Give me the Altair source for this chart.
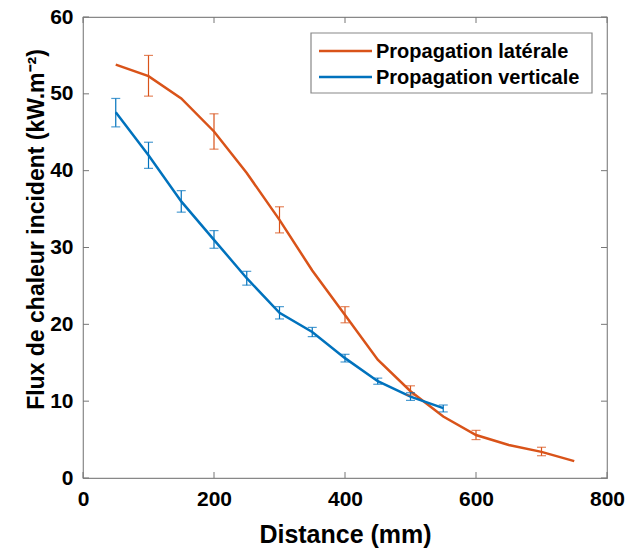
import altair as alt
import pandas as pd

# ---- data ----
series_names = ["Propagation latérale", "Propagation verticale"]
colors = ["#D95319", "#0072BD"]

lat_x = [50, 100, 150, 200, 250, 300, 350, 400, 450, 500, 550, 600, 650, 700, 750]
lat_y = [53.8, 52.3, 49.4, 45.1, 39.7, 33.6, 27.0, 21.2, 15.4, 11.3, 8.0, 5.6, 4.3, 3.4, 2.2]

lat_err_x = [100, 200, 300, 400, 500, 600, 700]
lat_err_lo = [49.7, 42.8, 31.9, 20.2, 10.8, 5.0, 2.9]
lat_err_hi = [55.0, 47.4, 35.3, 22.3, 12.0, 6.2, 4.0]

ver_x = [50, 100, 150, 200, 250, 300, 350, 400, 450, 500, 550]
ver_y = [47.6, 42.0, 36.0, 31.0, 26.0, 21.5, 19.0, 15.6, 12.6, 10.6, 9.1]
ver_err_lo = [45.7, 40.3, 34.6, 29.9, 25.1, 20.7, 18.4, 15.1, 12.2, 10.1, 8.6]
ver_err_hi = [49.4, 43.7, 37.4, 32.2, 26.9, 22.3, 19.6, 16.1, 13.0, 11.1, 9.5]

x_ticks = [0, 200, 400, 600, 800]
y_ticks = [0, 10, 20, 30, 40, 50, 60]

# ---- tables ----
lines = pd.DataFrame(
    {"x": lat_x + ver_x,
     "y": lat_y + ver_y,
     "s": [series_names[0]] * len(lat_x) + [series_names[1]] * len(ver_x)}
)
errs = pd.DataFrame(
    {"x": lat_err_x + ver_x,
     "lo": lat_err_lo + ver_err_lo,
     "hi": lat_err_hi + ver_err_hi,
     "s": [series_names[0]] * len(lat_err_x) + [series_names[1]] * len(ver_x)}
)
xt = pd.DataFrame({"x": x_ticks})
yt = pd.DataFrame({"y": y_ticks})

W, H = 524, 461
FONT = "Liberation Sans"
xscale = alt.Scale(domain=[0, 800], nice=False, padding=0)
yscale = alt.Scale(domain=[0, 60], nice=False, padding=0)
cscale = alt.Scale(domain=series_names, range=colors)
color_enc = alt.Color("s:N", scale=cscale, sort=series_names, legend=None)

xaxis = alt.Axis(title="Distance (mm)", values=x_ticks, grid=False, ticks=False,
                 domain=False, labelPadding=10, titlePadding=13, format="d",
                 labelFlush=False, titleFontSize=25)
yaxis = alt.Axis(title="Flux de chaleur incident (kW.m⁻²)", values=y_ticks, grid=False,
                 ticks=False, domain=False, labelPadding=10, format="d",
                 labelFlush=False, titleX=-35, titleY=212, titleFontSize=23)

line = alt.Chart(lines).mark_line(strokeWidth=2.5).encode(
    x=alt.X("x:Q", scale=xscale, axis=xaxis),
    y=alt.Y("y:Q", scale=yscale, axis=yaxis),
    color=color_enc,
    order=alt.Order("x:Q"),
)

ebar = alt.Chart(errs).mark_rule(strokeWidth=1.2).encode(
    x="x:Q", y="lo:Q", y2="hi:Q", color=color_enc,
)
cap_lo = alt.Chart(errs).mark_tick(orient="horizontal", size=9, thickness=1.2).encode(
    x="x:Q", y="lo:Q", color=color_enc,
)
cap_hi = alt.Chart(errs).mark_tick(orient="horizontal", size=9, thickness=1.2).encode(
    x="x:Q", y="hi:Q", color=color_enc,
)

tick_color = "#777"
xt_bot = alt.Chart(xt).mark_rule(color=tick_color, strokeWidth=1).encode(
    x="x:Q", y=alt.value(H), y2=alt.value(H - 6))
xt_top = alt.Chart(xt).mark_rule(color=tick_color, strokeWidth=1).encode(
    x="x:Q", y=alt.value(0), y2=alt.value(6))
yt_left = alt.Chart(yt).mark_rule(color=tick_color, strokeWidth=1).encode(
    y="y:Q", x=alt.value(0), x2=alt.value(6))
yt_right = alt.Chart(yt).mark_rule(color=tick_color, strokeWidth=1).encode(
    y="y:Q", x=alt.value(W), x2=alt.value(W - 6))

# ---- manual legend (MATLAB-style box) ----
legend_layers = [
    alt.Chart(pd.DataFrame({"k": [0]})).mark_rect(
        fill="white", stroke="#888", strokeWidth=1.2
    ).encode(x=alt.value(228), x2=alt.value(509), y=alt.value(16), y2=alt.value(76))
]
row_y = [34, 60]
for name, col, ry in zip(series_names, colors, row_y):
    df = pd.DataFrame({"s": [name]})
    legend_layers.append(
        alt.Chart(df).mark_rule(color=col, strokeWidth=2.5).encode(
            x=alt.value(236), x2=alt.value(289), y=alt.value(ry))
    )
    legend_layers.append(
        alt.Chart(df).mark_text(align="left", baseline="middle", font=FONT,
                                fontSize=20, fontWeight="bold", color="black").encode(
            x=alt.value(293), y=alt.value(ry + 1), text="s:N")
    )

chart = alt.layer(
    line, xt_bot, xt_top, yt_left, yt_right, ebar, cap_lo, cap_hi, *legend_layers
).properties(
    width=W, height=H,
    autosize=alt.AutoSizeParams(type="none"),
    padding={"left": 83, "top": 17, "right": 20, "bottom": 71},
    background="white",
).configure_view(
    stroke="#888", strokeWidth=1.2
).configure_axis(
    labelFont=FONT, labelFontSize=21, labelFontWeight="bold", labelColor="black",
    titleFont=FONT, titleFontSize=23, titleFontWeight="bold", titleColor="black",
)

chart.save("out.html", embed_options={"renderer": "svg", "actions": False})
